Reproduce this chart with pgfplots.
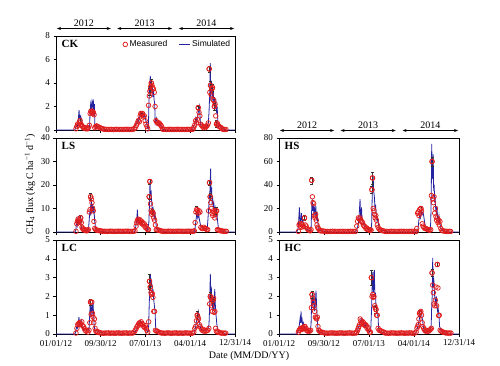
\documentclass[border=0pt]{standalone}
\usepackage{fontspec}
\setmainfont{Liberation Serif}
\setsansfont{Liberation Sans}
\usepackage{pgfplots}
\pgfplotsset{compat=1.18}
\usetikzlibrary{arrows.meta}
\definecolor{simblue}{RGB}{35,35,160}
\definecolor{measred}{RGB}{225,30,30}
\pgfplotsset{
 panel/.style={scale only axis, height=94pt, xmin=0, xmax=1095, ymin=0,
   xtick={0,273,547,820,1095}, xticklabels={}, tick align=outside, tick pos=left,
   major tick length=2.5pt, clip=false, axis line style={line width=0.6pt},
   tick style={line width=0.5pt, black},
   tick label style={font=\fontsize{9}{10}\selectfont},
   /pgf/number format/assume math mode=true},
 datelabels/.style={xticklabels={01/01/12,09/30/12,07/01/13,04/01/14,12/31/14}},
 sim/.style={draw=simblue, line width=0.8pt, mark=none, forget plot},
 meas/.style={only marks, mark=o, mark size=2.3pt, mark options={draw=measred, line width=0.75pt}, forget plot},
 err/.style={only marks, mark=o, mark size=2.3pt, mark options={draw=measred, line width=0.75pt}, forget plot,
   error bars/.cd, y dir=both, y explicit,
   error bar style={black!80, line width=0.4pt},
   error mark options={rotate=90, black!80, mark size=1.5pt, line width=0.4pt}},
 simleg/.style={simblue, line width=0.8pt, legend image code/.code={\draw[##1] (0pt,0pt) -- (11pt,0pt);}},
}
\newcommand{\plab}[1]{\node[anchor=north west, inner sep=1pt, font=\bfseries\fontsize{11}{12}\selectfont] at (rel axis cs:0.025,0.965) {#1};}
\newcommand{\yrs}[1]{%
 \draw[{Stealth[length=4pt,width=3pt]}-{Stealth[length=4pt,width=3pt]}, line width=0.5pt] ([yshift=7.5pt]axis cs:6,#1) -- node[above, inner sep=1.5pt, font=\fontsize{10}{11}\selectfont] {2012} ([yshift=7.5pt]axis cs:335,#1);
 \draw[{Stealth[length=4pt,width=3pt]}-{Stealth[length=4pt,width=3pt]}, line width=0.5pt] ([yshift=7.5pt]axis cs:375,#1) -- node[above, inner sep=1.5pt, font=\fontsize{10}{11}\selectfont] {2013} ([yshift=7.5pt]axis cs:710,#1);
 \draw[{Stealth[length=4pt,width=3pt]}-{Stealth[length=4pt,width=3pt]}, line width=0.5pt] ([yshift=7.5pt]axis cs:752,#1) -- node[above, inner sep=1.5pt, font=\fontsize{10}{11}\selectfont] {2014} ([yshift=7.5pt]axis cs:1089,#1);}
\begin{document}
\begin{tikzpicture}
\useasboundingbox (0,0) rectangle (500pt,365pt);
% ---------------- CK ----------------
\begin{axis}[panel, width=179pt, at={(56pt,235pt)}, anchor=south west, ymax=8, ytick={0,2,4,6,8},
  legend style={at={(rel axis cs:0.99,0.985)}, anchor=north east, draw=none, fill=none, inner sep=1pt,
  font=\sffamily\fontsize{8.5}{9}\selectfont, legend columns=2, /tikz/every even column/.append style={column sep=9pt}}]
\addlegendimage{only marks, mark=o, mark size=2.3pt, draw=measred, line width=0.75pt}
\addlegendentry{Measured}
\addlegendimage{simleg}
\addlegendentry{Simulated}
\addplot[sim] coordinates {(0,0) (116,0) (120,0.2) (126,0.4) (132,0.3) (136,0.8) (141,1.7) (144,0.9) (147,1.3) (150,0.7) (153,1.0) (157,0.5) (162,0.6) (167,0.3) (175,0.2) (185,0.1) (195,0.05) (205,0.1) (208,1.4) (212,2.2) (216,1.8) (220,2.4) (224,2.0) (228,2.6) (232,1.2) (235,2.2) (238,0.3) (242,0.1) (246,0.4) (255,0.3) (265,0.2) (280,0.1) (300,0.05) (320,0) (470,0) (478,0.2) (486,0.4) (494,0.6) (500,0.9) (506,0.7) (512,1.1) (518,1.5) (524,1.2) (530,1.5) (536,1.1) (542,1.3) (548,0.9) (554,0.6) (560,0.2) (565,0.1) (569,2.5) (573,3.8) (577,4.6) (580,3.4) (583,4.3) (586,3.2) (589,3.9) (592,2.8) (596,3.4) (600,2.6) (604,2.2) (607,0.6) (611,0.8) (615,1.0) (619,0.6) (625,0.6) (632,0.5) (640,0.4) (648,0.2) (656,0.05) (665,0) (835,0) (840,0.2) (848,0.5) (855,1.0) (860,0.6) (866,1.2) (872,1.6) (878,2.0) (884,0.5) (890,0.3) (900,0.2) (915,0.2) (925,0.3) (932,0.6) (936,1.5) (940,3.0) (944,5.7) (947,2.5) (950,4.2) (953,3.2) (956,3.8) (959,2.5) (962,3.5) (966,2.2) (970,2.8) (974,2.0) (978,2.4) (982,1.6) (986,2.0) (990,0.6) (994,0.3) (1000,0.5) (1008,0.3) (1015,0.2) (1025,0.1) (1035,0) (1095,0)};
\addplot[meas] coordinates {(122,0.10) (127,0.30) (132,0.50) (137,0.40) (142,0.60) (147,0.80) (152,0.50) (157,0.40) (162,0.30) (167,0.20) (172,0.15) (178,0.20) (183,0.10) (188,0.15) (193,0.10) (198,0.20) (204,0.40) (209,1.40) (213,1.60) (217,1.50) (221,1.60) (225,1.40) (229,1.50) (233,1.30) (237,0.20) (243,0.30) (249,0.35) (255,0.30) (261,0.25) (269,0.20) (277,0.15) (285,0.10) (293,0.08) (300,0.05) (310,0.06) (320,0.04) (330,0.05) (340,0.05) (350,0.03) (360,0.05) (370,0.06) (380,0.04) (390,0.05) (400,0.05) (410,0.04) (420,0.05) (430,0.06) (440,0.05) (450,0.04) (460,0.05) (470,0.06) (478,0.10) (485,0.20) (492,0.40) (498,0.60) (504,0.80) (510,0.70) (515,1.20) (520,1.40) (525,1.30) (530,1.40) (535,1.10) (540,1.20) (545,0.80) (550,0.50) (556,0.30) (561,0.10) (566,2.10) (571,2.90) (575,3.30) (579,3.70) (583,4.00) (587,3.80) (591,3.60) (596,3.50) (601,3.20) (606,2.00) (611,0.80) (616,0.70) (621,0.60) (626,0.55) (631,0.60) (636,0.50) (641,0.40) (646,0.30) (651,0.10) (656,0.05) (666,0.05) (676,0.04) (686,0.05) (696,0.06) (706,0.05) (716,0.04) (726,0.05) (736,0.05) (746,0.06) (756,0.04) (766,0.05) (776,0.05) (786,0.04) (796,0.05) (806,0.06) (816,0.05) (826,0.05) (836,0.06) (842,0.20) (848,0.40) (854,0.80) (858,0.60) (864,0.90) (870,1.90) (875,1.50) (880,1.20) (885,0.50) (890,0.40) (896,0.30) (902,0.20) (908,0.30) (914,0.20) (920,0.30) (926,0.40) (932,0.60) (937,5.20) (941,3.20) (945,3.80) (949,3.00) (953,3.50) (957,3.60) (961,2.60) (965,2.50) (969,2.00) (973,2.20) (977,1.20) (982,0.50) (986,0.60) (992,0.40) (998,0.30) (1004,0.25) (1010,0.20) (1016,0.10) (1024,0.05) (1032,0.05) (1040,0.04)};
\addplot[err] coordinates {(147,0.80) +- (0,0.2) (221,1.60) +- (0,0.2) (520,1.40) +- (0,0.15) (575,3.30) +- (0,0.3) (583,4.00) +- (0,0.3) (870,1.90) +- (0,0.15) (937,5.20) +- (0,0.25) (945,3.80) +- (0,0.35) (957,3.60) +- (0,0.3) (969,2.00) +- (0,0.3) (982,0.50) +- (0,0.3)};
\plab{CK}
\yrs{8}
\end{axis}
% ---------------- LS ----------------
\begin{axis}[panel, width=179pt, at={(56pt,133pt)}, anchor=south west, ymax=40, ytick={0,10,20,30,40}]
\addplot[sim] coordinates {(0,0) (116,0) (122,1) (126,5) (131,3) (136,6.8) (140,4) (144,3.5) (147,5) (150,7.2) (153,3) (157,1.5) (162,1) (170,0.6) (180,0.5) (190,0.5) (198,0.8) (202,4) (206,8) (210,10) (213,7) (216,14) (220,8) (224,12) (228,9) (232,11) (236,5) (240,3) (243,1) (250,0.6) (260,0.5) (275,0.3) (300,0.1) (320,0) (480,0) (485,1) (489,3) (494,5) (498,9.5) (501,4) (505,5.5) (510,4.5) (516,5) (522,4) (528,3.5) (534,3.2) (540,3) (548,2.5) (555,1.5) (562,1) (568,4) (572,12) (575,21.5) (578,16) (582,17) (586,12) (590,9) (594,10) (598,7) (602,6) (606,7.5) (610,5) (614,2) (620,1) (630,0.6) (640,0.5) (660,0.2) (680,0) (845,0) (850,1) (856,5) (862,8) (867,6) (872,7.5) (878,5) (884,3) (891,2) (900,1.5) (910,1.5) (920,1) (926,2) (930,6) (934,10) (938,14) (942,18) (946,27) (949,15) (952,19) (955,12) (958,15) (962,10) (966,12) (970,8) (974,10) (978,7) (983,9) (988,5) (993,2) (999,1) (1010,0.5) (1025,0.2) (1040,0) (1095,0)};
\addplot[meas] coordinates {(122,0.3) (127,3.5) (131,4.5) (135,5.5) (139,4.0) (143,5.0) (147,4.5) (151,6.0) (155,4.0) (159,2.0) (163,1.5) (168,1.0) (173,0.8) (178,1.0) (183,0.6) (188,0.5) (193,0.8) (198,1.0) (204,8.5) (208,9.5) (212,15.0) (216,14.0) (220,12.5) (224,10.0) (228,9.0) (232,4.5) (237,1.5) (242,1.0) (249,0.8) (256,0.7) (263,0.6) (270,0.5) (278,0.4) (286,0.3) (295,0.3) (305,0.3) (315,0.25) (325,0.3) (335,0.35) (345,0.3) (355,0.25) (365,0.3) (375,0.3) (385,0.35) (395,0.3) (405,0.25) (415,0.3) (425,0.3) (435,0.35) (445,0.3) (455,0.25) (465,0.3) (475,0.3) (483,0.5) (490,2.5) (494,4.0) (498,4.8) (502,5.5) (506,5.0) (510,4.5) (514,5.2) (518,4.0) (522,4.6) (526,3.5) (530,4.0) (535,3.0) (540,3.5) (545,2.0) (550,2.5) (556,1.5) (561,1.0) (566,1.0) (570,15.0) (574,21.5) (578,12.0) (582,9.0) (586,7.5) (590,8.5) (594,8.0) (598,6.0) (603,5.0) (608,3.0) (613,1.0) (618,1.0) (624,0.8) (630,0.8) (636,0.6) (642,0.5) (650,0.3) (660,0.3) (670,0.25) (680,0.3) (690,0.35) (700,0.3) (710,0.3) (720,0.25) (730,0.3) (740,0.3) (750,0.35) (760,0.3) (770,0.3) (780,0.25) (790,0.3) (800,0.3) (810,0.35) (820,0.3) (830,0.3) (840,0.3) (846,0.5) (851,4.0) (856,8.5) (861,9.5) (866,9.0) (871,8.0) (876,9.0) (881,8.5) (886,2.0) (892,1.5) (898,1.5) (904,2.0) (910,1.5) (916,1.5) (922,1.0) (928,1.0) (934,9.0) (939,21.0) (943,15.0) (947,12.5) (951,10.0) (955,8.0) (959,7.0) (963,9.0) (967,8.5) (971,6.0) (975,7.5) (979,9.0) (983,9.0) (987,1.0) (992,0.8) (998,0.8) (1004,0.6) (1010,0.5) (1018,0.4) (1026,0.3) (1034,0.3) (1042,0.3)};
\addplot[err] coordinates {(151,6.0) +- (0,1.2) (212,15.0) +- (0,1.5) (570,15.0) +- (0,1.0) (574,21.5) +- (0,1.0) (590,8.5) +- (0,1.0) (861,9.5) +- (0,1.5) (939,21.0) +- (0,1.0) (943,15.0) +- (0,1.5) (979,9.0) +- (0,1.5)};
\plab{LS}
\end{axis}
% ---------------- LC ----------------
\begin{axis}[panel, datelabels, width=179pt, at={(56pt,31pt)}, anchor=south west, ymax=5, ytick={0,1,2,3,4,5}]
\addplot[sim] coordinates {(0,0) (116,0) (122,0.2) (126,0.4) (131,0.3) (136,0.5) (140,0.9) (143,0.5) (147,0.7) (151,0.5) (155,0.7) (159,0.4) (165,0.3) (172,0.2) (180,0.3) (188,0.2) (196,0.3) (202,0.2) (206,1.0) (210,1.7) (214,0.9) (218,1.4) (222,1.2) (226,1.8) (230,1.0) (233,0.5) (236,0.3) (240,0.1) (246,0.2) (256,0.15) (270,0.1) (290,0.05) (305,0) (480,0) (488,0.2) (494,0.3) (500,0.5) (506,0.6) (512,0.55) (518,0.7) (524,0.6) (530,0.5) (536,0.45) (542,0.4) (548,0.3) (554,0.2) (560,0.1) (566,0.2) (570,1.5) (574,2.5) (577,3.2) (580,2.5) (583,2.8) (587,2.6) (590,2.2) (594,2.3) (598,1.8) (602,1.5) (606,1.2) (610,0.3) (614,0.1) (625,0.1) (640,0.05) (650,0) (845,0) (852,0.3) (858,0.6) (864,0.9) (870,1.2) (875,0.8) (880,0.5) (885,0.3) (892,0.2) (905,0.2) (920,0.2) (930,0.3) (936,0.5) (940,1.5) (944,3.2) (947,2.2) (950,2.5) (953,1.8) (956,2.0) (959,1.2) (963,1.6) (967,1.3) (971,2.4) (975,1.5) (979,1.0) (983,0.6) (987,0.3) (992,0.2) (1005,0.1) (1020,0.05) (1035,0) (1095,0)};
\addplot[meas] coordinates {(122,0.05) (128,0.30) (133,0.50) (138,0.55) (143,0.60) (148,0.50) (153,0.55) (158,0.65) (163,0.45) (168,0.40) (173,0.30) (178,0.20) (184,0.15) (190,0.20) (196,0.10) (202,0.20) (207,0.60) (211,1.70) (215,1.05) (219,1.70) (223,1.10) (227,0.90) (231,0.60) (235,0.80) (239,0.30) (244,0.15) (250,0.10) (256,0.12) (263,0.08) (270,0.06) (280,0.05) (290,0.04) (300,0.05) (310,0.05) (320,0.06) (330,0.04) (340,0.05) (350,0.05) (360,0.04) (370,0.05) (380,0.06) (390,0.05) (400,0.04) (410,0.05) (420,0.05) (430,0.06) (440,0.04) (450,0.05) (460,0.05) (470,0.05) (478,0.10) (485,0.20) (491,0.30) (496,0.40) (501,0.45) (506,0.55) (511,0.60) (516,0.50) (521,0.65) (526,0.55) (531,0.50) (536,0.40) (541,0.35) (546,0.45) (551,0.30) (556,0.20) (561,0.10) (567,0.65) (572,2.80) (577,2.50) (581,2.20) (585,2.10) (589,2.15) (593,1.95) (598,1.20) (603,1.20) (608,0.20) (614,0.15) (620,0.15) (628,0.10) (636,0.08) (645,0.05) (655,0.05) (665,0.04) (675,0.05) (685,0.06) (695,0.05) (705,0.04) (715,0.05) (725,0.05) (735,0.06) (745,0.04) (755,0.05) (765,0.05) (775,0.04) (785,0.05) (795,0.06) (805,0.05) (815,0.05) (825,0.04) (835,0.05) (843,0.10) (849,0.30) (854,0.40) (859,0.70) (864,1.00) (868,0.90) (872,0.80) (877,0.50) (882,0.40) (887,0.30) (893,0.20) (899,0.25) (905,0.15) (911,0.20) (917,0.15) (923,0.20) (929,0.20) (935,0.30) (940,1.60) (944,2.00) (948,1.90) (952,1.50) (956,1.20) (960,1.80) (964,1.90) (968,1.15) (972,1.20) (976,0.30) (981,0.15) (986,0.10) (992,0.12) (998,0.08) (1006,0.06) (1014,0.05) (1022,0.05) (1030,0.04) (1038,0.05)};
\addplot[err] coordinates {(211,1.70) +- (0,0.15) (572,2.80) +- (0,0.4) (577,2.50) +- (0,0.15) (864,1.00) +- (0,0.2) (944,2.00) +- (0,0.25) (960,1.80) +- (0,0.15)};
\plab{LC}
\end{axis}
% ---------------- HS ----------------
\begin{axis}[panel, width=180pt, at={(279pt,133pt)}, anchor=south west, ymax=80, ytick={0,20,40,60,80}]
\addplot[sim] coordinates {(0,0) (108,0) (114,2) (118,5) (124,21) (128,8) (132,10) (136,16) (140,9) (144,10) (148,6) (153,4) (158,3) (165,2.5) (172,2) (180,1.5) (189,1) (195,3) (199,20) (202,28) (205,18) (208,24) (212,16) (216,20) (220,14) (224,22) (228,12) (232,15) (236,8) (240,5) (245,2) (252,1) (262,1) (275,0.5) (300,0.3) (320,0) (465,0) (473,2) (479,5) (483,8) (488,15) (493,28) (496,14) (499,12) (502,21) (505,11) (510,9) (515,7) (520,6) (526,5) (532,4) (538,3) (546,2) (554,1.5) (560,1) (564,8) (567,30) (570,44) (573,47) (576,35) (580,30) (584,20) (588,22) (592,14) (596,10) (600,12) (604,8) (608,4) (614,2) (625,1.5) (640,1) (655,0.5) (670,0) (840,0) (846,3) (851,10) (856,14) (861,12) (866,18) (871,15) (876,17) (881,13) (886,8) (891,5) (898,4) (905,3) (912,2.5) (919,2) (923,8) (926,30) (929,75) (932,50) (935,45) (938,66) (941,35) (944,40) (947,25) (950,30) (953,20) (957,16) (961,22) (965,12) (969,10) (973,14) (977,8) (981,6) (985,3) (990,2) (1000,1) (1015,0.5) (1030,0) (1095,0)};
\addplot[meas] coordinates {(118,0.5) (122,6) (126,7) (130,5) (134,4) (138,7) (142,6) (146,5) (150,4.5) (155,12) (160,6) (165,5) (171,3) (177,2) (183,1.5) (189,1) (195,2) (199,44) (203,30) (207,25) (211,24) (215,14) (219,12) (223,15) (227,10) (231,6) (235,4) (240,3) (246,1.5) (252,1) (260,1) (268,0.8) (276,0.6) (285,0.5) (295,0.5) (305,0.4) (315,0.5) (325,0.6) (335,0.5) (345,0.5) (355,0.4) (365,0.5) (375,0.6) (385,0.5) (395,0.5) (405,0.4) (415,0.5) (425,0.5) (435,0.6) (445,0.5) (455,0.5) (465,0.5) (473,5) (478,9) (483,12) (488,11) (493,12) (498,10) (503,9) (508,8) (513,6) (518,5) (523,4.5) (528,3) (533,3.5) (538,2) (543,2) (549,1.5) (555,2) (560,1.5) (565,36) (569,46) (573,20) (577,18) (581,15) (585,12) (589,14) (593,10) (598,6) (603,4) (609,2.5) (615,2) (621,1.5) (628,1.2) (635,1) (645,0.5) (655,0.5) (665,0.4) (675,0.5) (685,0.6) (695,0.5) (705,0.5) (715,0.4) (725,0.5) (735,0.5) (745,0.6) (755,0.5) (765,0.5) (775,0.4) (785,0.5) (795,0.5) (805,0.6) (815,0.5) (825,0.5) (835,0.5) (838,3) (843,16) (847,17) (851,14) (855,19) (859,16) (863,20) (867,18) (871,7) (876,5) (881,4) (887,3) (893,3) (899,2.5) (905,2) (911,2) (917,1.5) (923,2) (927,31) (931,60) (935,28) (939,25) (943,30) (947,16) (951,20) (955,13) (959,10) (963,12) (967,8) (971,10) (975,6) (979,9) (984,3) (990,1.5) (996,1) (1004,0.8) (1012,0.6) (1020,0.5) (1028,0.5) (1036,0.5) (1044,0.5)};
\addplot[err] coordinates {(155,12) +- (0,2) (199,44) +- (0,3) (565,36) +- (0,3) (569,46) +- (0,5) (863,20) +- (0,2) (931,60) +- (0,4)};
\plab{HS}
\yrs{80}
\end{axis}
% ---------------- HC ----------------
\begin{axis}[panel, datelabels, width=180pt, at={(279pt,31pt)}, anchor=south west, ymax=5, ytick={0,1,2,3,4,5}]
\addplot[sim] coordinates {(0,0) (108,0) (114,0.1) (118,0.2) (124,0.5) (128,0.8) (131,0.6) (134,1.2) (137,0.7) (140,0.8) (144,0.5) (148,0.6) (152,0.4) (156,0.3) (162,0.3) (168,0.2) (178,0.15) (189,0.1) (195,0.5) (199,1.8) (203,2.2) (206,1.5) (209,1.8) (213,2.0) (217,1.2) (221,1.6) (225,2.3) (229,1.5) (233,0.8) (237,0.3) (242,0.15) (250,0.1) (265,0.05) (280,0) (470,0) (478,0.2) (483,0.3) (489,0.5) (495,0.7) (501,0.8) (507,0.6) (513,0.7) (519,0.4) (525,0.5) (531,0.3) (538,0.25) (544,0.2) (550,0.1) (558,0.2) (564,1.5) (568,3.0) (571,3.3) (574,2.2) (577,2.5) (580,3.4) (583,2.0) (586,2.2) (590,1.5) (594,1.5) (598,1.0) (602,1.0) (606,0.3) (612,0.15) (625,0.1) (640,0.05) (650,0) (830,0) (838,0.2) (844,0.4) (850,0.6) (856,0.9) (861,1.0) (866,1.2) (870,0.9) (874,0.7) (878,0.4) (882,0.2) (890,0.1) (900,0.1) (915,0.15) (922,0.3) (926,0.5) (929,1.5) (932,2.0) (935,4.05) (938,2.5) (941,3.0) (944,2.5) (947,2.0) (950,1.8) (953,1.5) (957,2.0) (961,1.6) (965,1.2) (969,1.3) (973,1.0) (977,0.4) (981,0.3) (986,0.15) (995,0.1) (1010,0.05) (1025,0) (1095,0)};
\addplot[meas] coordinates {(118,0.10) (122,0.20) (126,0.20) (130,0.30) (134,0.25) (138,0.30) (142,0.25) (146,0.35) (150,0.30) (154,0.40) (158,0.40) (163,0.30) (168,0.20) (174,0.15) (180,0.20) (186,0.15) (192,0.20) (197,1.40) (201,2.10) (205,1.90) (209,1.70) (213,1.50) (217,1.20) (221,0.90) (225,0.85) (229,0.80) (233,0.90) (237,0.40) (242,0.20) (247,0.15) (253,0.10) (260,0.10) (268,0.08) (278,0.05) (288,0.05) (298,0.04) (308,0.05) (318,0.06) (328,0.05) (338,0.05) (348,0.04) (358,0.05) (368,0.05) (378,0.06) (388,0.05) (398,0.04) (408,0.05) (418,0.05) (428,0.06) (438,0.05) (448,0.04) (458,0.05) (468,0.05) (473,0.10) (478,0.20) (482,0.30) (486,0.40) (490,0.50) (494,0.80) (498,0.70) (502,0.60) (506,0.55) (510,0.65) (514,0.60) (518,0.50) (522,0.45) (526,0.50) (531,0.45) (536,0.30) (541,0.35) (546,0.20) (551,0.10) (556,0.10) (562,3.00) (566,2.00) (570,2.10) (574,1.95) (578,2.00) (582,1.50) (586,1.40) (590,1.30) (594,1.00) (598,1.00) (603,0.30) (609,0.20) (615,0.20) (622,0.15) (630,0.12) (638,0.10) (646,0.05) (656,0.05) (666,0.04) (676,0.05) (686,0.06) (696,0.05) (706,0.05) (716,0.04) (726,0.05) (736,0.05) (746,0.06) (756,0.05) (766,0.04) (776,0.05) (786,0.05) (796,0.06) (806,0.05) (816,0.04) (826,0.05) (834,0.10) (839,0.30) (843,0.40) (847,0.50) (851,0.80) (855,1.10) (859,1.15) (863,1.20) (867,1.00) (871,0.60) (875,0.40) (880,0.30) (886,0.20) (892,0.15) (898,0.20) (904,0.15) (910,0.15) (916,0.20) (922,0.25) (927,0.30) (931,3.25) (935,2.60) (939,2.20) (943,1.60) (947,1.50) (951,1.80) (955,2.50) (959,1.50) (963,3.70) (967,2.45) (971,0.98) (975,1.00) (980,0.20) (986,0.15) (992,0.12) (998,0.10) (1006,0.08) (1014,0.06) (1022,0.05) (1030,0.05) (1038,0.05) (1046,0.05)};
\addplot[err] coordinates {(201,2.10) +- (0,0.2) (562,3.00) +- (0,0.4) (590,1.30) +- (0,0.2) (855,1.10) +- (0,0.15) (931,3.25) +- (0,0.2) (963,3.70) +- (0,0.1)};
\plab{HC}
\end{axis}
\node[rotate=90, font=\fontsize{10}{12}\selectfont] at (30pt,181pt) {CH\textsubscript{4} flux (kg C ha\textsuperscript{−1} d\textsuperscript{−1})};
\node[font=\fontsize{10}{12}\selectfont] at (249pt,9pt) {Date (MM/DD/YY)};
\end{tikzpicture}
\end{document}
